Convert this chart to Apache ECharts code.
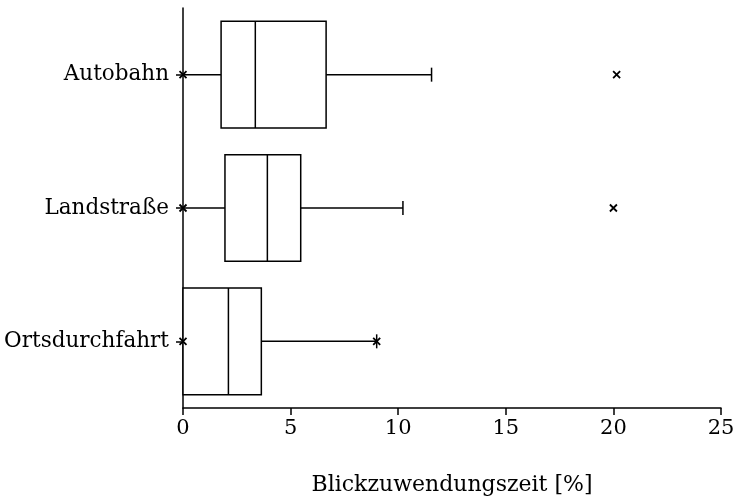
<!DOCTYPE html>
<html>
<head>
<meta charset="utf-8">
<script src="https://cdn.jsdelivr.net/npm/echarts@6/dist/echarts.min.js"></script>
<style>html,body{margin:0;padding:0;background:#fff;}#c{width:740px;height:501px;}</style>
</head>
<body>
<div id="c"></div>
<script>
const categories = ['Autobahn', 'Landstraße', 'Ortsdurchfahrt'];
const whiskerLow = [0, 0, 0];
const q1 = [1.77, 1.95, 0];
const median = [3.36, 3.92, 2.11];
const q3 = [6.65, 5.47, 3.64];
const whiskerHigh = [11.55, 10.22, 9.0];
const outliers = [[0, 20.15], [0, 20.0], [0, 9.0]];
const xTicks = [0, 5, 10, 15, 20, 25];
const xTitle = 'Blickzuwendungszeit [%]';

const FONT = 'DejaVu Serif';
const boxData = categories.map((c, i) => [i, whiskerLow[i], q1[i], median[i], q3[i], whiskerHigh[i]]);
const outData = [];
outliers.forEach((arr, i) => arr.forEach(v => outData.push([v, i])));

function renderBox(params, api) {
  const ci = api.value(0);
  const lo = api.coord([api.value(1), ci]);
  const b1 = api.coord([api.value(2), ci]);
  const md = api.coord([api.value(3), ci]);
  const b3 = api.coord([api.value(4), ci]);
  const hi = api.coord([api.value(5), ci]);
  const band = api.size([0, 1])[1];
  const h = band * 0.8;
  const cap = 14;
  const y = lo[1];
  const st = { stroke: '#000', lineWidth: 1.5, fill: null };
  return {
    type: 'group',
    children: [
      { type: 'line', shape: { x1: lo[0], y1: y, x2: b1[0], y2: y }, style: st },
      { type: 'line', shape: { x1: b3[0], y1: y, x2: hi[0], y2: y }, style: st },
      { type: 'line', shape: { x1: hi[0], y1: y - cap / 2, x2: hi[0], y2: y + cap / 2 }, style: st },
      { type: 'rect', shape: { x: b1[0], y: y - h / 2, width: b3[0] - b1[0], height: h }, style: { stroke: '#000', lineWidth: 1.5, fill: '#fff' } },
      { type: 'line', shape: { x1: md[0], y1: y - h / 2, x2: md[0], y2: y + h / 2 }, style: st }
    ]
  };
}

const chart = echarts.init(document.getElementById('c'), null, { renderer: 'canvas' });
chart.setOption({
  animation: false,
  backgroundColor: '#fff',
  grid: { left: 183, right: 19, top: 8, bottom: 93, containLabel: false },
  xAxis: {
    type: 'value', min: xTicks[0], max: xTicks[xTicks.length - 1], interval: 5,
    name: xTitle, nameLocation: 'middle', nameGap: 66,
    nameTextStyle: { fontFamily: FONT, fontSize: 22, color: '#000' },
    axisLine: { show: true, lineStyle: { color: '#000', width: 1.5 } },
    axisTick: { show: true, length: 7, lineStyle: { color: '#000', width: 1.5 } },
    axisLabel: { fontFamily: FONT, fontSize: 21, color: '#000', margin: 10 },
    splitLine: { show: false }
  },
  yAxis: {
    type: 'category', data: categories, inverse: true,
    axisLine: { show: true, lineStyle: { color: '#000', width: 1.5 } },
    axisTick: { show: true, alignWithLabel: true, length: 7, lineStyle: { color: '#000', width: 1.5 } },
    axisLabel: { fontFamily: FONT, fontSize: 21.5, color: '#000', margin: 14 },
    splitLine: { show: false }
  },
  series: [
    {
      type: 'custom', renderItem: renderBox, data: boxData,
      encode: { x: [1, 2, 3, 4, 5], y: 0 }, z: 2
    },
    {
      type: 'scatter', data: outData, symbol: 'path://M0,0L10,10M10,0L0,10', symbolSize: 7,
      itemStyle: { color: 'none', borderColor: '#000', borderWidth: 1.8, opacity: 1 }, z: 3
    }
  ]
});
</script>
</body>
</html>
